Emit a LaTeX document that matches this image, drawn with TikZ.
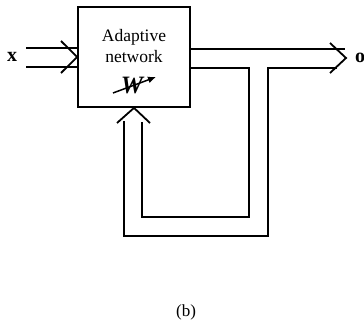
\documentclass[tikz,border=0pt]{standalone}
\usepackage{fontspec}
\setmainfont{Liberation Serif}
\usetikzlibrary{arrows.meta}
\begin{document}
\begin{tikzpicture}[x=1pt,y=-1pt,
  line/.style={line width=1.8pt,line join=miter},
  netbox/.style={draw,line width=1.8pt,minimum width=112pt,minimum height=100pt,inner sep=0pt},
  lbl/.style={font=\fontsize{20}{20}\selectfont\bfseries,inner sep=0pt}]
\useasboundingbox (0,0) rectangle (364,321);
% the adaptive network block
\node[netbox] (net) at (134,57) {};
\node[font=\fontsize{17.5}{21}\selectfont,align=center] (txt) at (134,46) {Adaptive\\network};
\node[font=\fontsize{25}{25}\selectfont\bfseries\itshape,inner sep=0pt] (w) at (132,86) {W};
\draw[line width=1.5pt,-{Latex[length=8pt,width=7pt]}] (113,93) -- (156,77);
% input channel x
\node[lbl] (x) at (12,57) {x};
\coordinate (inA) at (26,48);
\coordinate (inB) at (26,67);
\draw[line] (inA) -- (net.west |- inA);
\draw[line] (inB) -- (net.west |- inB);
\draw[line] (61,41) -- (net.west) -- (61,73);
% output channel o
\node[lbl] (o) at (360,58) {o};
\coordinate (tip) at (346,58);
\draw[line] (net.east |- 0,49) -- (345,49);
\draw[line] (net.east |- 0,68) -- (249,68) -- (249,217) -- (142,217) -- (142,122);
\draw[line] (337,68) -- (268,68) -- (268,236) -- (124,236) -- (124,121);
\draw[line] (330,43) -- (tip) -- (330,73);
% feedback arrowhead into the block
\draw[line] (117,123) -- (net.south) -- (150,123);
% caption
\node[font=\fontsize{17}{17}\selectfont] (cap) at (186,312) {(b)};
\end{tikzpicture}
\end{document}
